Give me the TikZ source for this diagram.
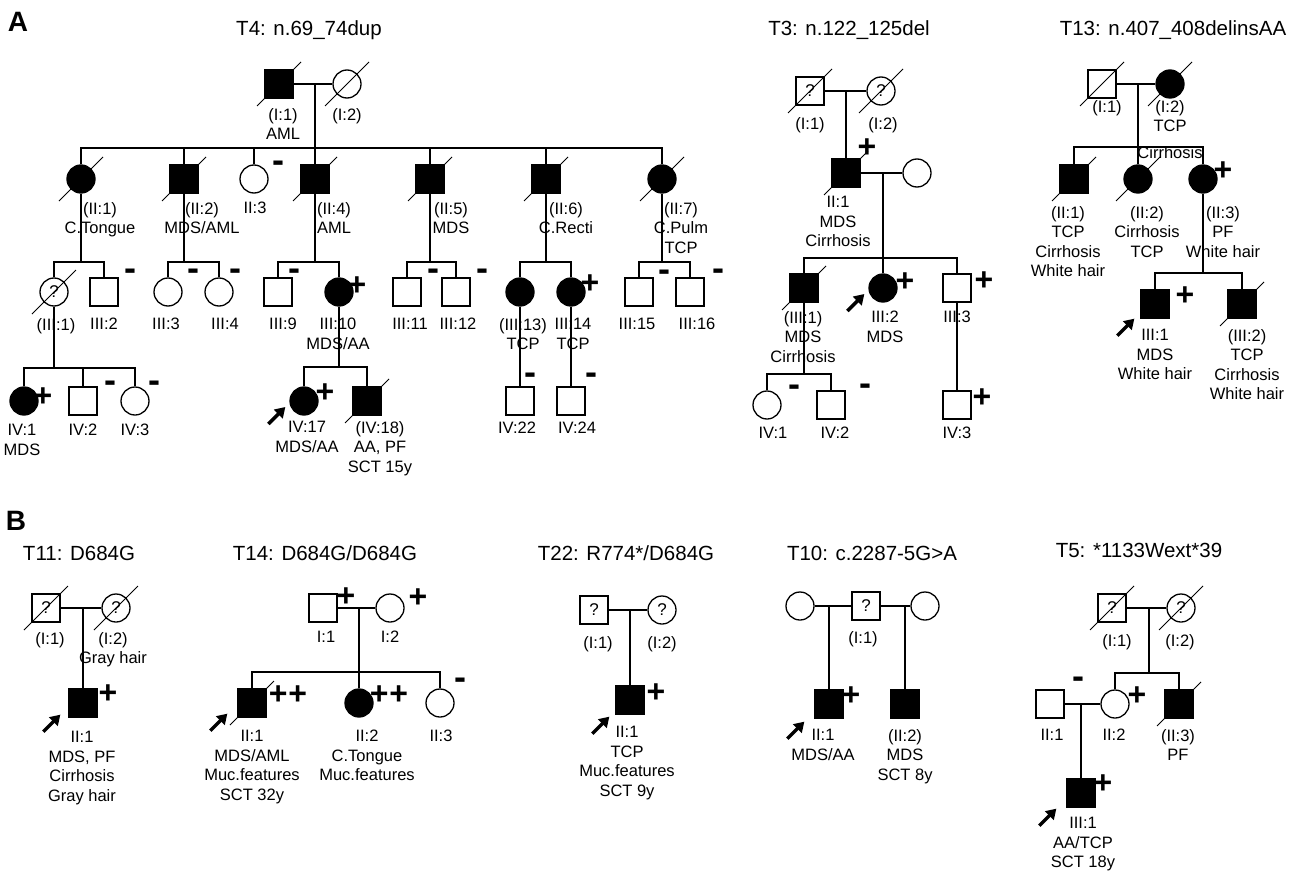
\documentclass[tikz,border=0pt]{standalone}
\usepackage{fontspec}
\setmainfont{Liberation Sans}
\usepackage{tikz}
\usetikzlibrary{arrows.meta, calc}

% deceased slash and proband arrow
\newcommand{\dead}[1]{\draw[slash] ($(#1)+(-22,22)$) -- ($(#1)+(22,-22)$);}
\newcommand{\pbarrow}[2]{\draw[proband] ($(#1)+(#2)+(-17,17)$) -- ($(#1)+(#2)$);}

\begin{document}
\begin{tikzpicture}[x=1pt, y=-1pt]
	% Styles
	\tikzstyle{male} = [draw, rectangle, minimum size=28pt, inner sep=0pt, line width=1.3pt, fill=white, font=\fontsize{17}{17}\selectfont]
	\tikzstyle{female} = [draw, circle, minimum size=28pt, inner sep=0pt, line width=1.3pt, fill=white, font=\fontsize{17}{17}\selectfont]
	\tikzstyle{aff} = [fill=black]
	\tikzstyle{info} = [anchor=north, inner sep=0pt, align=center, font=\fontsize{16.5}{19.5}\selectfont]
	\tikzstyle{ttl} = [inner sep=0pt, font=\fontsize{20.5}{24}\selectfont]
	\tikzstyle{panel} = [inner sep=0pt, font=\bfseries\fontsize{28}{28}\selectfont]
	\tikzstyle{mkplus} = [inner sep=0pt, yshift=-1pt, font=\bfseries\fontsize{32}{32}\selectfont]
	\tikzstyle{mkminus} = [inner sep=0pt, yshift=-3.5pt, font=\bfseries\fontsize{36}{36}\selectfont]
	\tikzstyle{link} = [line width=1.3pt]
	\tikzstyle{slash} = [line width=0.9pt]
	\tikzstyle{proband} = [line width=3.5pt, -{Triangle[length=10pt, width=12pt]}]

	\useasboundingbox (0,0) rectangle (1295,872);

	% ---------------- A: T4 ----------------
	\node[panel] (lblA) at (18,22) {A};
	\node[ttl] (t4t) at (309,30) {T4: n.69\_74dup};

	\node[male, aff] (t4i1) at (279,84) {};
	\node[female] (t4i2) at (347,84) {};

	\node[female, aff] (t4ii1) at (81,179) {};
	\node[male, aff] (t4ii2) at (184,179) {};
	\node[female] (t4ii3) at (254,179) {};
	\node[male, aff] (t4ii4) at (315,179) {};
	\node[male, aff] (t4ii5) at (430,179) {};
	\node[male, aff] (t4ii6) at (546,179) {};
	\node[female, aff] (t4ii7) at (662,179) {};

	\node[female] (t4iii1) at (54,292) {?};
	\node[male] (t4iii2) at (104,292) {};
	\node[female] (t4iii3) at (168,292) {};
	\node[female] (t4iii4) at (219,292) {};
	\node[male] (t4iii9) at (278,292) {};
	\node[female, aff] (t4iii10) at (339,292) {};
	\node[male] (t4iii11) at (407,292) {};
	\node[male] (t4iii12) at (456,292) {};
	\node[female, aff] (t4iii13) at (520,292) {};
	\node[female, aff] (t4iii14) at (571,292) {};
	\node[male] (t4iii15) at (639,292) {};
	\node[male] (t4iii16) at (690,292) {};

	\node[female, aff] (t4iv1) at (24,401) {};
	\node[male] (t4iv2) at (83,401) {};
	\node[female] (t4iv3) at (135,401) {};
	\node[female, aff] (t4iv17) at (304,401) {};
	\node[male, aff] (t4iv18) at (367,401) {};
	\node[male] (t4iv22) at (520,401) {};
	\node[male] (t4iv24) at (571,401) {};

	\coordinate (t4s1) at (315,148);
	\coordinate (t4s2) at (81,262);
	\coordinate (t4s3) at (184,262);
	\coordinate (t4s4) at (315,262);
	\coordinate (t4s5) at (430,262);
	\coordinate (t4s6) at (546,262);
	\coordinate (t4s7) at (662,262);
	\coordinate (t4s8) at (54,368);
	\coordinate (t4s9) at (339,367);

	\draw[link] (t4i1) -- (t4i2);
	\draw[link] (t4s1 |- t4i1) -- (t4s1);
	\draw[link] (t4ii1.north) |- (t4s1) -| (t4ii7.north);
	\foreach \c in {t4ii2, t4ii3, t4ii4, t4ii5, t4ii6}
		{\draw[link] (\c.north) -- (\c.north |- t4s1);}
	\foreach \p/\s/\a/\b in {t4ii1/t4s2/t4iii1/t4iii2, t4ii2/t4s3/t4iii3/t4iii4, t4ii4/t4s4/t4iii9/t4iii10,
			t4ii5/t4s5/t4iii11/t4iii12, t4ii6/t4s6/t4iii13/t4iii14, t4ii7/t4s7/t4iii15/t4iii16} {
		\draw[link] (\p) -- (\s);
		\draw[link] (\a.north) |- (\s) -| (\b.north);
	}
	\draw[link] (t4iii1) -- (t4s8);
	\draw[link] (t4iv1.north) |- (t4s8) -| (t4iv3.north);
	\draw[link] (t4iv2.north) -- (t4iv2.north |- t4s8);
	\draw[link] (t4iii10) -- (t4s9);
	\draw[link] (t4iv17.north) |- (t4s9) -| (t4iv18.north);
	\draw[link] (t4iii13) -- (t4iv22);
	\draw[link] (t4iii14) -- (t4iv24);

	\node[mkminus] (t4ii3m) at (278,163) {-};
	\node[mkminus] (t4iii2m) at (130,271) {-};
	\node[mkminus] (t4iii3m) at (193,271) {-};
	\node[mkminus] (t4iii4m) at (235,271) {-};
	\node[mkminus] (t4iii9m) at (294,271) {-};
	\node[mkplus] (t4iii10m) at (357,285) {+};
	\node[mkminus] (t4iii11m) at (433,271) {-};
	\node[mkminus] (t4iii12m) at (482,271) {-};
	\node[mkplus] (t4iii14m) at (590,283) {+};
	\node[mkminus] (t4iii15m) at (664,272) {-};
	\node[mkminus] (t4iii16m) at (718,271) {-};
	\node[mkplus] (t4iv1m) at (43,396) {+};
	\node[mkminus] (t4iv2m) at (110,383) {-};
	\node[mkminus] (t4iv3m) at (154,383) {-};
	\node[mkplus] (t4iv17m) at (325,392) {+};
	\node[mkminus] (t4iv22m) at (530,375) {-};
	\node[mkminus] (t4iv24m) at (591,375) {-};

	\node[info] (t4i1l) at (283,108) {(I:1)\\AML};
	\node[info] (t4i2l) at (347,108) {(I:2)};
	\node[info] (t4ii1l) at (100,202) {(II:1)\\C.Tongue};
	\node[info] (t4ii2l) at (202,202) {(II:2)\\MDS/AML};
	\node[info] (t4ii3l) at (255,202) {II:3};
	\node[info] (t4ii4l) at (334,202) {(II:4)\\AML};
	\node[info] (t4ii5l) at (451,202) {(II:5)\\MDS};
	\node[info] (t4ii6l) at (566,202) {(II:6)\\C.Recti};
	\node[info] (t4ii7l) at (681,202) {(II:7)\\C.Pulm\\TCP};
	\node[info] (t4iii1l) at (56,318) {(III:1)};
	\node[info] (t4iii2l) at (104,318) {III:2};
	\node[info] (t4iii3l) at (166,318) {III:3};
	\node[info] (t4iii4l) at (225,318) {III:4};
	\node[info] (t4iii9l) at (283,318) {III:9};
	\node[info] (t4iii10l) at (338,318) {III:10\\MDS/AA};
	\node[info] (t4iii11l) at (410,318) {III:11};
	\node[info] (t4iii12l) at (458,318) {III:12};
	\node[info] (t4iii13l) at (523,318) {(III:13)\\TCP};
	\node[info] (t4iii14l) at (573,318) {III:14\\TCP};
	\node[info] (t4iii15l) at (637,318) {III:15};
	\node[info] (t4iii16l) at (697,318) {III:16};
	\node[info] (t4iv1l) at (22,424) {IV:1\\MDS};
	\node[info] (t4iv2l) at (83,424) {IV:2};
	\node[info] (t4iv3l) at (135,424) {IV:3};
	\node[info] (t4iv17l) at (307,421) {IV:17\\MDS/AA};
	\node[info] (t4iv18l) at (380,421) {(IV:18)\\AA, PF\\SCT 15y};
	\node[info] (t4iv22l) at (517,422) {IV:22};
	\node[info] (t4iv24l) at (577,422) {IV:24};

	\pbarrow{t4iv17.west}{-4,6}

	% ---------------- A: T3 ----------------
	\node[ttl] (t3t) at (849,30) {T3: n.122\_125del};

	\node[male] (t3i1) at (810,91) {?};
	\node[female] (t3i2) at (881,91) {?};
	\node[male, aff] (t3ii1) at (846,173) {};
	\node[female] (t3ii2) at (917,173) {};
	\node[male, aff] (t3iii1) at (804,288) {};
	\node[female, aff] (t3iii2) at (883,288) {};
	\node[male] (t3iii3) at (957,288) {};
	\node[female] (t3iv1) at (767,405) {};
	\node[male] (t3iv2) at (831,405) {};
	\node[male] (t3iv3) at (957,405) {};

	\coordinate (t3s1) at (883,258);
	\coordinate (t3s2) at (804,374);

	\draw[link] (t3i1) -- (t3i2);
	\draw[link] (t3ii1.north |- t3i1) -- (t3ii1.north);
	\draw[link] (t3ii1) -- (t3ii2);
	\draw[link] (t3s1 |- t3ii1) -- (t3s1);
	\draw[link] (t3iii1.north) |- (t3s1) -| (t3iii3.north);
	\draw[link] (t3iii2.north) -- (t3iii2.north |- t3s1);
	\draw[link] (t3iii1) -- (t3s2);
	\draw[link] (t3iv1.north) |- (t3s2) -| (t3iv2.north);
	\draw[link] (t3iii3) -- (t3iv3);

	\node[mkplus] (t3ii1m) at (867,147) {+};
	\node[mkplus] (t3iii2m) at (905,281) {+};
	\node[mkplus] (t3iii3m) at (984,280) {+};
	\node[mkminus] (t3iv1m) at (794,387) {-};
	\node[mkminus] (t3iv2m) at (865,386) {-};
	\node[mkplus] (t3iv3m) at (982,397) {+};

	\node[info] (t3i1l) at (810,117) {(I:1)};
	\node[info] (t3i2l) at (883,117) {(I:2)};
	\node[info] (t3ii1l) at (838,196) {II:1\\MDS\\Cirrhosis};
	\node[info] (t3iii1l) at (803,311) {(III:1)\\MDS\\Cirrhosis};
	\node[info] (t3iii2l) at (885,311) {III:2\\MDS};
	\node[info] (t3iii3l) at (957,311) {III:3};
	\node[info] (t3iv1l) at (773,427) {IV:1};
	\node[info] (t3iv2l) at (835,427) {IV:2};
	\node[info] (t3iv3l) at (957,427) {IV:3};

	\pbarrow{t3iii2.west}{-4,6}

	% ---------------- A: T13 ----------------
	\node[ttl] (t13t) at (1173,30) {T13: n.407\_408delinsAA};

	\node[male] (t13i1) at (1102,84) {};
	\node[female, aff] (t13i2) at (1170,84) {};
	\node[male, aff] (t13ii1) at (1074,179) {};
	\node[female, aff] (t13ii2) at (1138,179) {};
	\node[female, aff] (t13ii3) at (1203,179) {};
	\node[male, aff] (t13iii1) at (1155,304) {};
	\node[male, aff] (t13iii2) at (1242,304) {};

	\coordinate (t13s1) at (1138,147);
	\coordinate (t13s2) at (1203,273);

	\draw[link] (t13i1) -- (t13i2);
	\draw[link] (t13s1 |- t13i1) -- (t13s1);
	\draw[link] (t13ii1.north) |- (t13s1) -| (t13ii3.north);
	\draw[link] (t13ii2.north) -- (t13ii2.north |- t13s1);
	\draw[link] (t13ii3) -- (t13s2);
	\draw[link] (t13iii1.north) |- (t13s2) -| (t13iii2.north);

	\node[mkplus] (t13ii3m) at (1223,170) {+};
	\node[mkplus] (t13iii1m) at (1185,295) {+};

	\node[info] (t13i1l) at (1107,100) {(I:1)};
	\node[info] (t13i2l) at (1170,100) {(I:2)\\TCP\\[7pt]Cirrhosis};
	\node[info] (t13ii1l) at (1068,206) {(II:1)\\TCP\\Cirrhosis\\White hair};
	\node[info] (t13ii2l) at (1147,206) {(II:2)\\Cirrhosis\\TCP};
	\node[info] (t13ii3l) at (1223,206) {(II:3)\\PF\\White hair};
	\node[info] (t13iii1l) at (1155,329) {III:1\\MDS\\White hair};
	\node[info] (t13iii2l) at (1247,329) {(III:2)\\TCP\\Cirrhosis\\White hair};

	\pbarrow{t13iii1.south west}{-6,0}

	% ---------------- B: T11 ----------------
	\node[panel] (lblB) at (16,521) {B};
	\node[ttl] (t11t) at (79,553) {T11: D684G};

	\node[male] (t11i1) at (46,608) {?};
	\node[female] (t11i2) at (116,608) {?};
	\node[male, aff] (t11ii1) at (83,703) {};

	\draw[link] (t11i1) -- (t11i2);
	\draw[link] (t11ii1.north |- t11i1) -- (t11ii1.north);

	\node[mkplus] (t11ii1m) at (108,693) {+};

	\node[info] (t11i1l) at (50,632) {(I:1)};
	\node[info] (t11i2l) at (113,632) {(I:2)\\Gray hair};
	\node[info] (t11ii1l) at (82,731) {II:1\\MDS, PF\\Cirrhosis\\Gray hair};

	\pbarrow{t11ii1.south west}{-8,-3}

	% ---------------- B: T14 ----------------
	\node[ttl] (t14t) at (325,553) {T14: D684G/D684G};

	\node[male] (t14i1) at (323,608) {};
	\node[female] (t14i2) at (390,608) {};
	\node[male, aff] (t14ii1) at (252,703) {};
	\node[female, aff] (t14ii2) at (359,703) {};
	\node[female] (t14ii3) at (440,703) {};

	\coordinate (t14s1) at (359,672);

	\draw[link] (t14i1) -- (t14i2);
	\draw[link] (t14s1 |- t14i1) -- (t14s1);
	\draw[link] (t14ii1.north) |- (t14s1) -| (t14ii3.north);
	\draw[link] (t14ii2.north) -- (t14ii2.north |- t14s1);

	\node[mkplus] (t14i1m) at (346,596) {+};
	\node[mkplus] (t14i2m) at (418,597) {+};
	\node[mkplus] (t14ii1m) at (288,694) {+\kern1pt+};
	\node[mkplus] (t14ii2m) at (389,694) {+\kern1pt+};
	\node[mkminus] (t14ii3m) at (460,680) {-};

	\node[info] (t14i1l) at (326,631) {I:1};
	\node[info] (t14i2l) at (390,631) {I:2};
	\node[info] (t14ii1l) at (252,730) {II:1\\MDS/AML\\Muc.features\\SCT 32y};
	\node[info] (t14ii2l) at (367,730) {II:2\\C.Tongue\\Muc.features};
	\node[info] (t14ii3l) at (441,730) {II:3};

	\pbarrow{t14ii1.south west}{-10,-4}

	% ---------------- B: T22 ----------------
	\node[ttl] (t22t) at (626,553) {T22: R774*/D684G};

	\node[male] (t22i1) at (594,610) {?};
	\node[female] (t22i2) at (662,610) {?};
	\node[male, aff] (t22ii1) at (630,700) {};

	\draw[link] (t22i1) -- (t22i2);
	\draw[link] (t22ii1.north |- t22i1) -- (t22ii1.north);

	\node[mkplus] (t22ii1m) at (656,692) {+};

	\node[info] (t22i1l) at (598,636) {(I:1)};
	\node[info] (t22i2l) at (662,636) {(I:2)};
	\node[info] (t22ii1l) at (627,726) {II:1\\TCP\\Muc.features\\SCT 9y};

	\pbarrow{t22ii1.south west}{-6,2}

	% ---------------- B: T10 ----------------
	\node[ttl] (t10t) at (872,553) {T10: c.2287-5G>A};

	\node[female] (t10f1) at (800,606) {};
	\node[male] (t10i1) at (866,606) {?};
	\node[female] (t10f2) at (925,606) {};
	\node[male, aff] (t10ii1) at (829,704) {};
	\node[male, aff] (t10ii2) at (905,704) {};

	\draw[link] (t10f1) -- (t10i1);
	\draw[link] (t10i1) -- (t10f2);
	\draw[link] (t10ii1.north |- t10i1) -- (t10ii1.north);
	\draw[link] (t10ii2.north |- t10i1) -- (t10ii2.north);

	\node[mkplus] (t10ii1m) at (851,695) {+};

	\node[info] (t10i1l) at (863,631) {(I:1)};
	\node[info] (t10ii1l) at (823,729) {II:1\\MDS/AA};
	\node[info] (t10ii2l) at (905,729) {(II:2)\\MDS\\SCT 8y};

	\pbarrow{t10ii1.south west}{-10,3}

	% ---------------- B: T5 ----------------
	\node[ttl] (t5t) at (1139,550) {T5: *1133Wext*39};

	\node[male] (t5i1) at (1112,608) {?};
	\node[female] (t5i2) at (1181,608) {?};
	\node[male] (t5ii1) at (1050,704) {};
	\node[female] (t5ii2) at (1115,704) {};
	\node[male, aff] (t5ii3) at (1179,704) {};
	\node[male, aff] (t5iii1) at (1081,793) {};

	\coordinate (t5s1) at (1149,673);

	\draw[link] (t5i1) -- (t5i2);
	\draw[link] (t5s1 |- t5i1) -- (t5s1);
	\draw[link] (t5ii2.north) |- (t5s1) -| (t5ii3.north);
	\draw[link] (t5ii1) -- (t5ii2);
	\draw[link] (t5iii1.north |- t5ii1) -- (t5iii1.north);

	\node[mkminus] (t5ii1m) at (1078,679) {-};
	\node[mkplus] (t5ii2m) at (1137,695) {+};
	\node[mkplus] (t5iii1m) at (1103,783) {+};

	\node[info] (t5i1l) at (1117,634) {(I:1)};
	\node[info] (t5i2l) at (1180,634) {(I:2)};
	\node[info] (t5ii1l) at (1052,729) {II:1};
	\node[info] (t5ii2l) at (1114,729) {II:2};
	\node[info] (t5ii3l) at (1178,729) {(II:3)\\PF};
	\node[info] (t5iii1l) at (1083,817) {III:1\\AA/TCP\\SCT 18y};

	\pbarrow{t5iii1.south west}{-10,1}

	% deceased
	\foreach \n in {t4i1, t4i2, t4ii1, t4ii2, t4ii4, t4ii5, t4ii6, t4ii7, t4iii1, t4iv18,
			t3i1, t3i2, t3ii1, t3iii1, t13i1, t13i2, t13ii1, t13ii2, t13iii2,
			t11i1, t11i2, t14ii1, t5i1, t5i2, t5ii3}
		{\dead{\n}}
\end{tikzpicture}
\end{document}
